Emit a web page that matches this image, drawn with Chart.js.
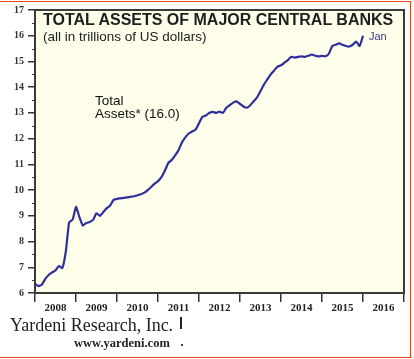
<!DOCTYPE html>
<html>
<head>
<meta charset="utf-8">
<script src="https://cdn.jsdelivr.net/npm/chart.js@4/dist/chart.umd.min.js"></script>
<style>
  body { margin: 0; background: #fff; }
  #wrap { position: relative; width: 414px; height: 359px; overflow: hidden; }
  .txt { position: absolute; white-space: nowrap; line-height: 1; }
  #title { left: 43px; top: 11px; font: bold 16px "Liberation Sans", Arial, sans-serif; color: #1e1e1e; }
  #sub { left: 43px; top: 29px; font: 13.5px "Liberation Sans", Arial, sans-serif; color: #222; }
  #jan { left: 369px; top: 30px; font: 11px "Liberation Sans", Arial, sans-serif; color: #3434a0; }
  #total { left: 95px; top: 94px; font: 13.5px "Liberation Sans", Arial, sans-serif; color: #111; line-height: 13px; }
  #firm { left: 10px; top: 315px; font: 18px "Liberation Serif", "Times New Roman", serif; color: #222; }
  #web { left: 74px; top: 336px; font: bold 12.5px "Liberation Serif", "Times New Roman", serif; color: #222; }
  #bar { position: absolute; left: 180px; top: 317px; width: 1.5px; height: 12px; background: #222; }
  #dot { position: absolute; left: 181px; top: 344px; width: 2px; height: 2px; background: #444; }
  #frame { position: absolute; left: -3px; top: 1px; width: 412px; height: 355px; border: 1.5px solid #e4471e; pointer-events: none; }
</style>
</head>
<body>
<div id="wrap">
  <canvas id="chart"></canvas>
  <div class="txt" id="title">TOTAL ASSETS OF MAJOR CENTRAL BANKS</div>
  <div class="txt" id="sub">(all in trillions of US dollars)</div>
  <div class="txt" id="jan">Jan</div>
  <div class="txt" id="total">Total<br>Assets* (16.0)</div>
  <div class="txt" id="firm">Yardeni Research, Inc.</div>
  <div class="txt" id="web">www.yardeni.com</div>
  <div id="bar"></div>
  <div id="dot"></div>
  <div id="frame"></div>
</div>
<script>
// monthly readings, trillions of US dollars
var months = [
  "2008-01","2008-02","2008-03","2008-04","2008-05","2008-06","2008-07","2008-08","2008-09","2008-10","2008-11","2008-12",
  "2009-01","2009-02","2009-03","2009-04","2009-05","2009-06","2009-07","2009-08","2009-09","2009-10","2009-11","2009-12",
  "2010-01","2010-02","2010-03","2010-04","2010-05","2010-06","2010-07","2010-08","2010-09","2010-10","2010-11","2010-12",
  "2011-01","2011-02","2011-03","2011-04","2011-05","2011-06","2011-07","2011-08","2011-09","2011-10","2011-11","2011-12",
  "2012-01","2012-02","2012-03","2012-04","2012-05","2012-06","2012-07","2012-08","2012-09","2012-10","2012-11","2012-12",
  "2013-01","2013-02","2013-03","2013-04","2013-05","2013-06","2013-07","2013-08","2013-09","2013-10","2013-11","2013-12",
  "2014-01","2014-02","2014-03","2014-04","2014-05","2014-06","2014-07","2014-08","2014-09","2014-10","2014-11","2014-12",
  "2015-01","2015-02","2015-03","2015-04","2015-05","2015-06","2015-07","2015-08","2015-09","2015-10","2015-11","2015-12",
  "2016-01"
];
var totalAssets = [
  6.35, 6.27, 6.32, 6.55, 6.70, 6.80, 6.88, 7.05, 6.97, 7.60, 8.75, 8.85,
  9.35, 8.95, 8.62, 8.72, 8.76, 8.84, 9.10, 9.00, 9.15, 9.30, 9.40, 9.62,
  9.66, 9.68, 9.70, 9.72, 9.74, 9.76, 9.80, 9.84, 9.90, 10.00, 10.12, 10.25,
  10.35, 10.50, 10.75, 11.05, 11.17, 11.35, 11.55, 11.85, 12.05, 12.20, 12.28, 12.35,
  12.60, 12.85, 12.90, 13.00, 13.04, 13.00, 13.05, 13.00, 13.20, 13.30, 13.40, 13.45,
  13.35, 13.25, 13.20, 13.30, 13.45, 13.60, 13.85, 14.10, 14.30, 14.50, 14.65, 14.80,
  14.85, 14.95, 15.05, 15.18, 15.15, 15.18, 15.20, 15.18, 15.22, 15.27, 15.22, 15.20,
  15.22, 15.20, 15.30, 15.60, 15.65, 15.70, 15.65, 15.60, 15.58, 15.65, 15.77, 15.60,
  16.00
];
var yearTicks = [2008, 2009, 2010, 2011, 2012, 2013, 2014, 2015, 2016];

var points = [];
for (var i = 0; i < months.length; i++) {
  var p = months[i].split("-");
  points.push({ x: +p[0] + (+p[1] - 1) / 12, y: totalAssets[i] });
}

var panel = {
  id: "panel",
  beforeDraw: function(chart) {
    var a = chart.chartArea, c = chart.ctx;
    c.save();
    c.fillStyle = "#fdfdea";
    c.fillRect(a.left, a.top, a.right - a.left, a.bottom - a.top);
    c.restore();
  },
  afterDraw: function(chart) {
    var a = chart.chartArea, c = chart.ctx, ys = chart.scales.y;
    c.save();
    c.strokeStyle = "#3a3a3a";
    c.lineWidth = 2;
    c.strokeRect(a.left, a.top, a.right - a.left, a.bottom - a.top);
    // minor ticks at half units
    c.lineWidth = 1.2;
    c.beginPath();
    for (var v = ys.min + 0.5; v < ys.max; v += 1) {
      var py = Math.round(ys.getPixelForValue(v)) + 0.5;
      c.moveTo(a.left - 3, py);
      c.lineTo(a.left, py);
    }
    c.stroke();
    c.restore();
  }
};

new Chart(document.getElementById("chart"), {
  type: "line",
  data: {
    datasets: [{
      label: "Total Assets",
      data: points,
      borderColor: "#2e2e9c",
      borderWidth: 2.2,
      pointRadius: 0,
      tension: 0.15,
      fill: false
    }]
  },
  options: {
    responsive: true,
    maintainAspectRatio: false,
    animation: false,
    layout: { padding: { top: 8, right: 10, bottom: 0, left: 0 } },
    plugins: { legend: { display: false }, tooltip: { enabled: false } },
    scales: {
      x: {
        type: "linear",
        min: 2008,
        max: 2017,
        afterFit: function(s) { s.height = 66; },
        border: { display: false },
        grid: { drawOnChartArea: false, tickLength: 9, color: "#333", lineWidth: 1.5 },
        ticks: {
          stepSize: 1,
          autoSkip: false,
          maxRotation: 0,
          padding: 0,
          labelOffset: 20.5,
          color: "#222",
          font: { family: "'Liberation Serif', 'Times New Roman', serif", size: 11, weight: "bold" },
          callback: function(v) { return yearTicks.indexOf(v) >= 0 ? String(v) : ""; }
        }
      },
      y: {
        min: 6,
        max: 17,
        afterFit: function(s) { s.width = 35; },
        border: { display: false },
        grid: { drawOnChartArea: false, tickLength: 7, color: "#333", lineWidth: 1.5 },
        ticks: {
          stepSize: 1,
          padding: 4,
          color: "#333",
          font: { family: "'Liberation Serif', 'Times New Roman', serif", size: 10, weight: "bold" }
        }
      }
    }
  },
  plugins: [panel]
});
</script>
</body>
</html>
